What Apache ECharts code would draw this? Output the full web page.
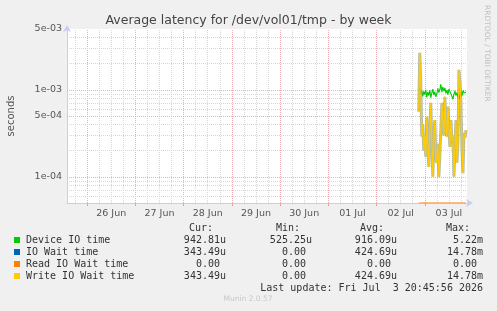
<!DOCTYPE html>
<html>
<head>
<meta charset="utf-8">
<script src="https://cdn.jsdelivr.net/npm/echarts@6/dist/echarts.min.js"></script>
<style>
  html, body { margin: 0; padding: 0; background: #f0f0f0; }
  #chart { width: 497px; height: 311px; }
</style>
</head>
<body>
<div id="chart"></div>
<script>
// 时间范围（按 UTC 计算，避免时区影响）
const HOUR = 3600 * 1000
const xStart = Date.UTC(2026, 5, 25, 14, 0)
const xEnd = Date.UTC(2026, 6, 3, 21, 0)
const dataStart = Date.UTC(2026, 6, 2, 21, 0)
const stepMs = 30 * 60 * 1000

// x 轴标签（每天中午）
const dayLabels = ['26 Jun', '27 Jun', '28 Jun', '29 Jun', '30 Jun', '01 Jul', '02 Jul', '03 Jul']

// y 轴刻度（对数）
const yMin = 5e-5
const yMax = 5e-3
const yTickValues = [5e-3, 1e-3, 5e-4, 1e-4]
const yTickLabels = ['5e-03', '1e-03', '5e-04', '1e-04']
const yMinorValues = [6e-5, 7e-5, 8e-5, 9e-5, 2e-4, 3e-4, 4e-4, 6e-4, 7e-4, 8e-4, 9e-4, 2e-3, 3e-3, 4e-3]

// 数据：30 分钟一个点，单位秒
const deviceIO = [null, 1.05e-3, 9.0e-4, 9.8e-4, 8.4e-4, 9.6e-4, 8.8e-4, 1.0e-3, 8.2e-4, 9.4e-4,
  8.6e-4, 9.9e-4, 8.1e-4, 9.2e-4, 1.02e-3, 8.7e-4, 9.5e-4, 8.3e-4, 9.0e-4, 1.04e-3,
  9.3e-4, 1.0e-3, 1.16e-3, 9.4e-4, 1.08e-3, 9.7e-4, 1.05e-3, 9.1e-4, 9.9e-4, 8.8e-4,
  1.02e-3, 9.6e-4, 1.0e-3, 8.4e-4, 7.8e-4, 8.9e-4, 9.7e-4, 8.6e-4, 9.3e-4, 8.2e-4,
  7.7e-4, 8.8e-4, 9.5e-4, 8.5e-4, 9.8e-4, 9.2e-4, 9.6e-4, 9.43e-4]
const writeIO = [5.6e-4, 2.66e-3, 1.2e-3, 2.9e-4, 4.0e-4, 2.0e-4, 3.0e-4, 1.7e-4, 4.9e-4, 2.2e-4,
  1.3e-4, 3.5e-4, 7.1e-4, 2.5e-4, 1.0e-4, 3.0e-4, 4.5e-4, 1.6e-4, 1.45e-4, 2.4e-4,
  1.0e-4, 1.8e-4, 3.5e-4, 7.1e-4, 4.5e-4, 3.0e-4, 8.3e-4, 4.0e-4, 2.9e-4, 6.4e-4,
  3.8e-4, 2.2e-4, 4.5e-4, 2.6e-4, 2.9e-4, 1.0e-4, 2.2e-4, 4.5e-4, 1.45e-4, 2.5e-4,
  1.7e-3, 1.2e-3, 7.1e-4, 2.0e-4, 1.1e-4, 3.2e-4, 2.8e-4, 3.43e-4]
const ioWait = writeIO.slice()
const readIO = writeIO.map(() => 0)

// 图例表格
const legendNames = ['Device IO time', 'IO Wait time', 'Read IO Wait time', 'Write IO Wait time']
const legendColors = ['#00cc00', '#0066b3', '#ff8000', '#ffcc00']
const curVals = ['942.81u', '343.49u', '0.00 ', '343.49u']
const minVals = ['525.25u', '0.00 ', '0.00 ', '0.00 ']
const avgVals = ['916.09u', '424.69u', '0.00 ', '424.69u']
const maxVals = ['5.22m', '14.78m', '0.00 ', '14.78m']

const LOG = v => Math.log10(v)
// 0 在对数轴上画在底边
const toPoints = arr => arr.map((v, i) => [dataStart + i * stepMs, v == null ? null : LOG(Math.max(v, yMin))])

const dayNoons = dayLabels.map((d, i) => Date.UTC(2026, 5, 26 + i, 12))
const midnights = dayLabels.map((d, i) => Date.UTC(2026, 5, 26 + i, 0))

// 网格线（每条单独一个样式对象）
const gridStyle = major => ({ color: major ? '#f0b0b0' : '#d6d6d6', type: [1, 1], width: 1 })
const gridLines = []
for (let t = Date.UTC(2026, 5, 25, 18); t < xEnd; t += 6 * HOUR) {
  gridLines.push({ xAxis: t, lineStyle: gridStyle(new Date(t).getUTCHours() === 0) })
}
yMinorValues.forEach(v => gridLines.push({ yAxis: LOG(v), lineStyle: gridStyle(false) }))
yTickValues.forEach(v => gridLines.push({ yAxis: LOG(v), lineStyle: gridStyle(true) }))

const mono = 'DejaVu Sans Mono'
const textColor = '#333'
const rowY = [240, 252, 264, 276]
const graphic = []
// 表头
;[['Cur:', 213], ['Min:', 300], ['Avg:', 384], ['Max:', 470]].forEach(([t, x]) => {
  graphic.push({ type: 'text', x, y: 228, style: { text: t, font: '10px ' + mono, fill: textColor, align: 'right', verticalAlign: 'middle' } })
})
legendNames.forEach((name, i) => {
  graphic.push({ type: 'rect', shape: { x: 14, y: rowY[i] - 3, width: 6, height: 6 }, style: { fill: legendColors[i] } })
  graphic.push({ type: 'text', x: 26, y: rowY[i], style: { text: name, font: '10px ' + mono, fill: textColor, verticalAlign: 'middle' } })
  ;[[curVals, 226], [minVals, 312], [avgVals, 397], [maxVals, 483]].forEach(([arr, x]) => {
    graphic.push({ type: 'text', x, y: rowY[i], style: { text: arr[i], font: '10px ' + mono, fill: textColor, align: 'right', verticalAlign: 'middle' } })
  })
})
graphic.push({ type: 'text', x: 483, y: 288, style: { text: 'Last update: Fri Jul  3 20:45:56 2026', font: '10px ' + mono, fill: textColor, align: 'right', verticalAlign: 'middle' } })
graphic.push({ type: 'text', x: 248, y: 299, style: { text: 'Munin 2.0.57', font: '7.5px DejaVu Sans', fill: '#c8c8c8', align: 'center', verticalAlign: 'middle' } })
graphic.push({ type: 'text', x: 11, y: 116, rotation: Math.PI / 2, style: { text: 'seconds', font: '10px DejaVu Sans', fill: '#555', align: 'center', verticalAlign: 'middle' } })
graphic.push({ type: 'text', x: 487, y: 5, rotation: -Math.PI / 2, style: { text: 'RRDTOOL / TOBI OETIKER', font: '7.5px DejaVu Sans', fill: '#c0c0c0', align: 'left', verticalAlign: 'middle' } })

const options = {
  animation: false,
  backgroundColor: '#f0f0f0',
  title: {
    text: 'Average latency for /dev/vol01/tmp - by week',
    left: 'center',
    top: 9,
    textStyle: { fontFamily: 'DejaVu Sans', fontSize: 12.5, fontWeight: 'normal', color: '#444' }
  },
  grid: {
    left: 67, right: 30, top: 29, bottom: 108,
    show: true, backgroundColor: '#fff', borderWidth: 0
  },
  xAxis: {
    type: 'value', min: xStart, max: xEnd,
    axisLine: { show: true, lineStyle: { color: '#c8cdf0' }, symbol: ['none', 'arrow'], symbolSize: [6, 7], symbolOffset: [0, 6] },
    axisTick: { show: true, customValues: midnights, length: 3, inside: false, lineStyle: { color: '#e8a0a0' } },
    splitLine: { show: false },
    axisLabel: {
      customValues: dayNoons,
      formatter: v => dayLabels[dayNoons.indexOf(v)] || '',
      color: '#555', fontFamily: 'DejaVu Sans', fontSize: 9.5, margin: 6
    }
  },
  yAxis: {
    type: 'value', min: LOG(yMin), max: LOG(yMax),
    axisLine: { show: true, lineStyle: { color: '#c8cdf0' }, symbol: ['none', 'arrow'], symbolSize: [6, 7], symbolOffset: [0, 4] },
    axisTick: { show: false },
    splitLine: { show: false },
    axisLabel: {
      customValues: yTickValues.map(LOG),
      formatter: v => {
        let best = 0
        yTickValues.forEach((t, i) => { if (Math.abs(LOG(t) - v) < Math.abs(LOG(yTickValues[best]) - v)) best = i })
        return yTickLabels[best]
      },
      color: '#555', fontFamily: 'DejaVu Sans', fontSize: 9.5, margin: 5
    }
  },
  graphic,
  series: [
    {
      name: 'grid', type: 'line', data: [], z: 1, silent: true,
      // markLine 默认 z 为 5，压到底层
      markLine: { z: 1, silent: true, symbol: ['none', 'none'], label: { show: false }, data: gridLines }
    },
    {
      name: legendNames[0], type: 'line', data: toPoints(deviceIO), showSymbol: false, z: 3,
      lineStyle: { color: legendColors[0], width: 1.1 }
    },
    {
      name: legendNames[1], type: 'line', data: toPoints(ioWait), showSymbol: false, z: 3,
      lineStyle: { color: '#8a8f5a', width: 3, opacity: 0.6 }
    },
    {
      name: legendNames[2], type: 'line', data: toPoints(readIO), showSymbol: false, z: 3,
      lineStyle: { color: legendColors[2], width: 1.2 }
    },
    {
      name: legendNames[3], type: 'line', data: toPoints(writeIO), showSymbol: false, z: 4,
      lineStyle: { color: legendColors[3], width: 1.2 }
    }
  ]
}

const chart = echarts.init(document.getElementById('chart'))
chart.setOption(options)
</script>
</body>
</html>
